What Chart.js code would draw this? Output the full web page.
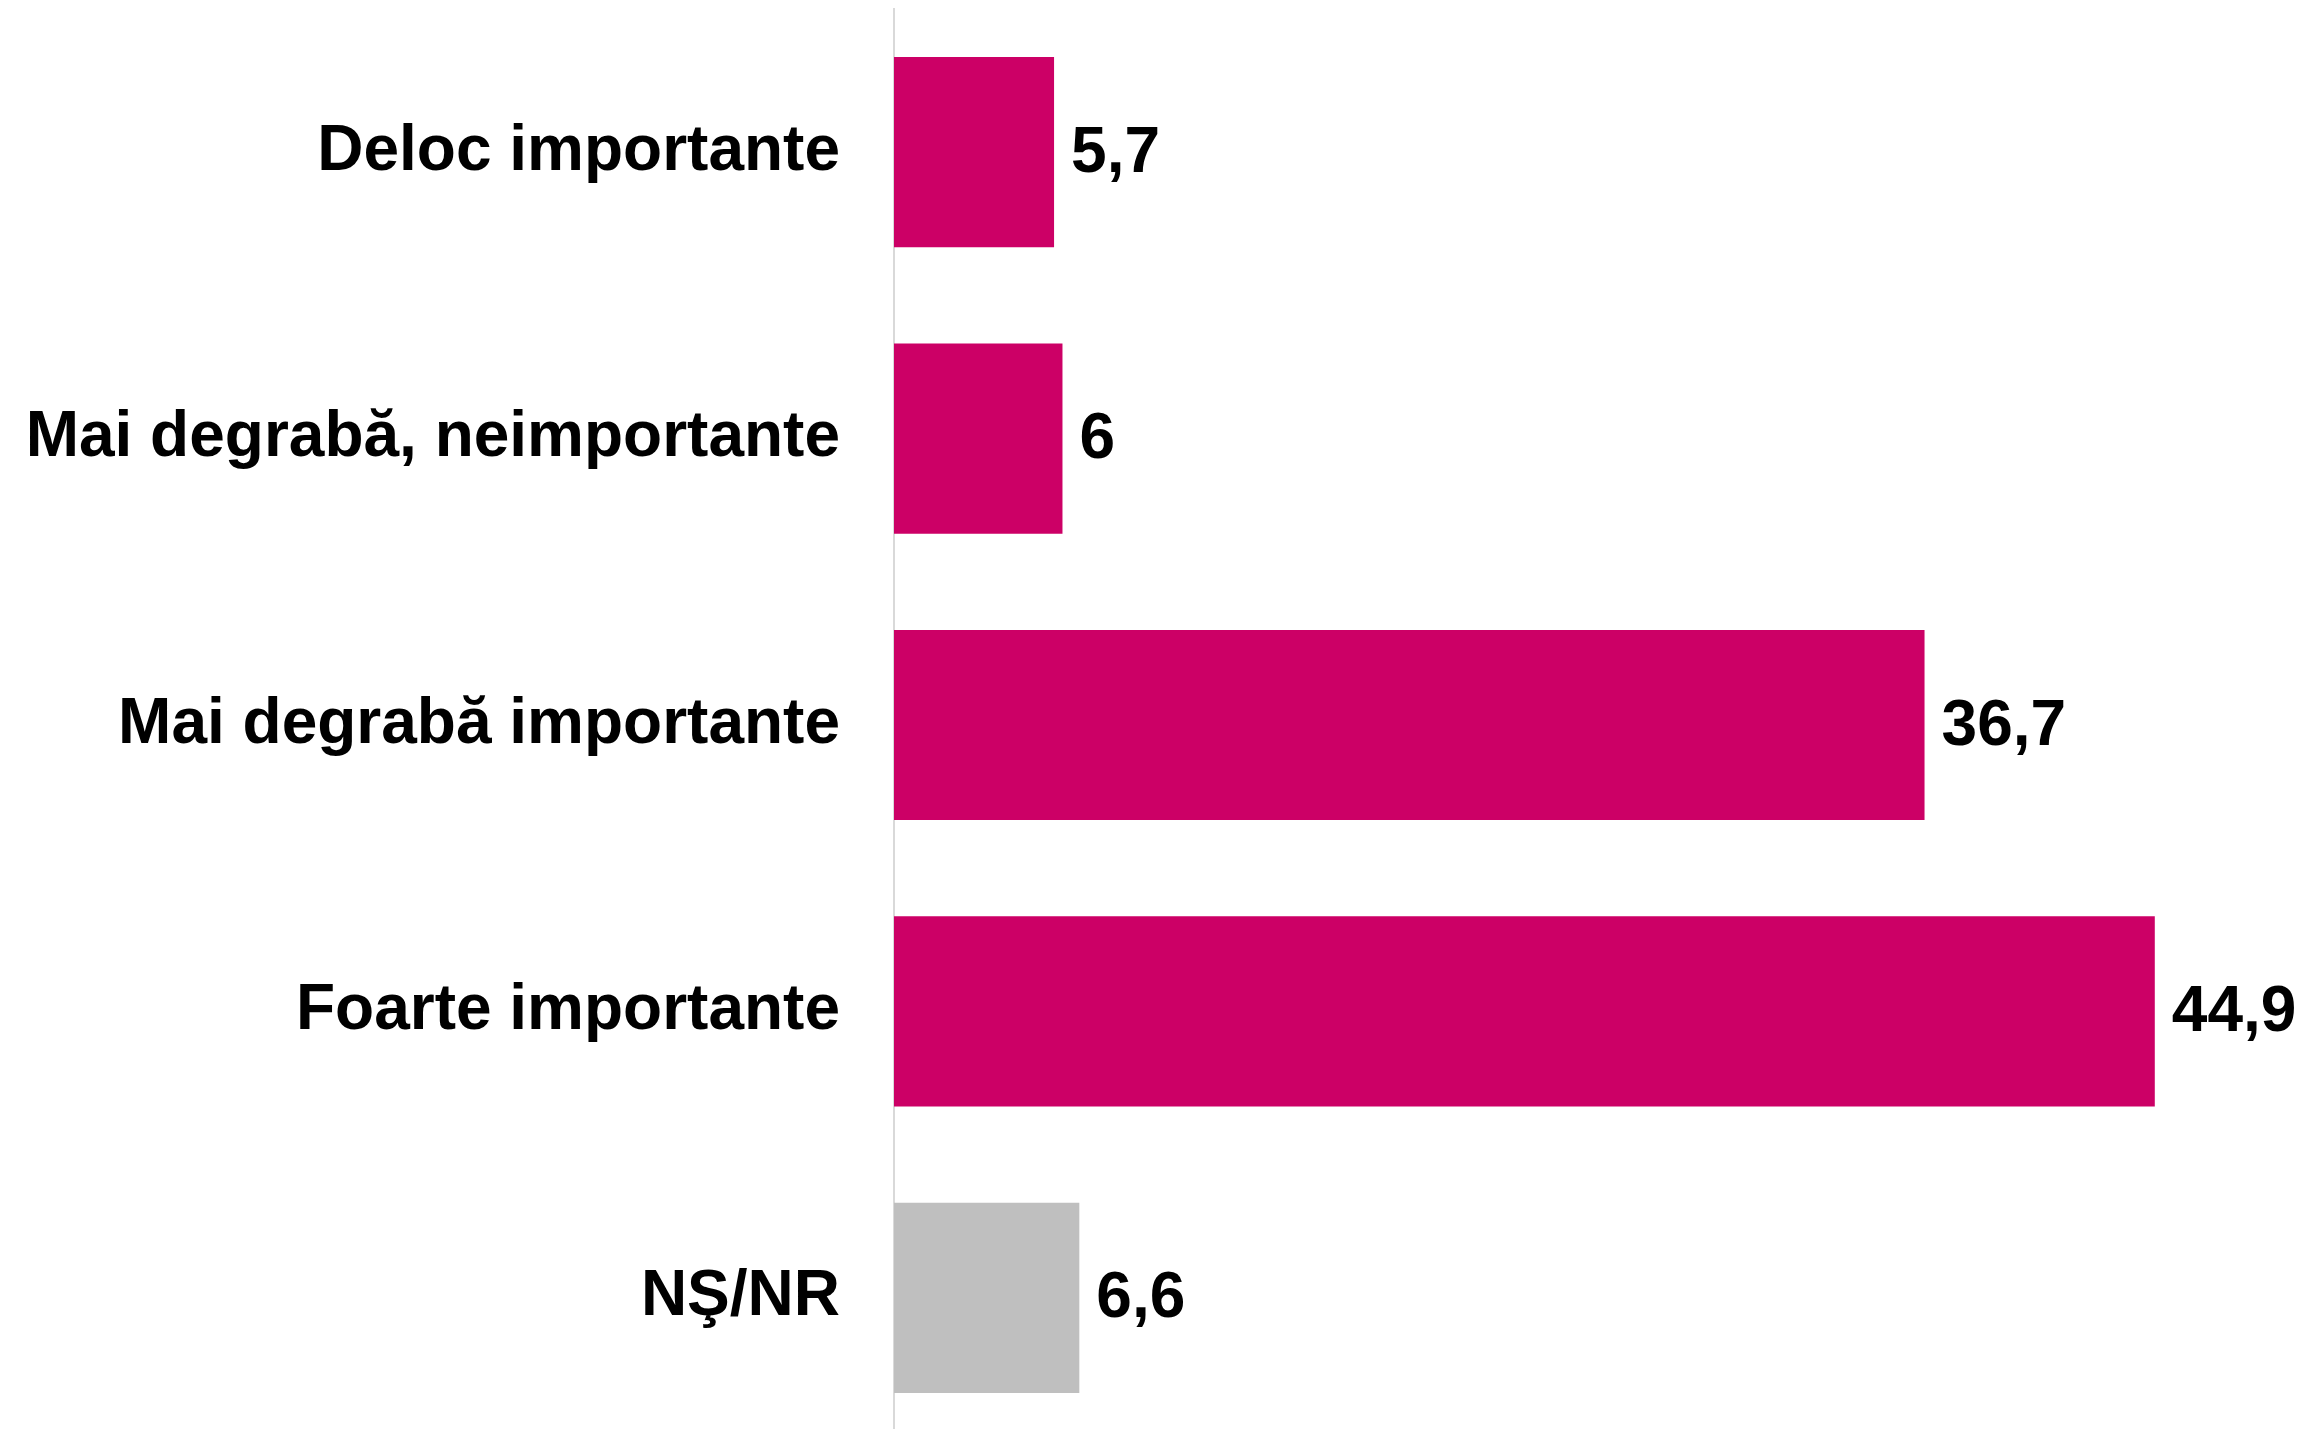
<!DOCTYPE html>
<html>
<head>
<meta charset="utf-8">
<script src="https://cdn.jsdelivr.net/npm/chart.js@4/dist/chart.umd.min.js"></script>
<style>
  html, body { margin: 0; padding: 0; background: #fff; overflow: hidden; }
  #wrap { width: 2313px; height: 1441px; }
</style>
</head>
<body>
<div id="wrap"><canvas id="chart"></canvas></div>
<script>
// data
const categories = ['Deloc importante', 'Mai degrabă, neimportante', 'Mai degrabă importante', 'Foarte importante', 'NŞ/NR'];
const values = [5.7, 6, 36.7, 44.9, 6.6];
const barColors = ['#CC0066', '#CC0066', '#CC0066', '#CC0066', '#BFBFBF'];

const FONT = 'bold 64px "Liberation Sans", Arial, sans-serif';

// value labels to the right of each bar, with comma decimals
const valueLabels = {
  id: 'valueLabels',
  afterDatasetsDraw(chart) {
    const ctx = chart.ctx;
    const meta = chart.getDatasetMeta(0);
    ctx.save();
    ctx.font = FONT;
    ctx.fillStyle = '#000';
    ctx.textAlign = 'left';
    ctx.textBaseline = 'middle';
    meta.data.forEach((bar, i) => {
      const txt = String(values[i]).replace('.', ',');
      ctx.fillText(txt, bar.x + 17, bar.y + 2);
    });
    ctx.restore();
  }
};

new Chart(document.getElementById('chart'), {
  type: 'bar',
  data: {
    labels: categories,
    datasets: [{
      data: values,
      backgroundColor: barColors,
      borderWidth: 0,
      categoryPercentage: 1,
      barPercentage: 0.664
    }]
  },
  options: {
    indexAxis: 'y',
    responsive: true,
    maintainAspectRatio: false,
    devicePixelRatio: 1,
    animation: false,
    layout: { padding: { top: 9, right: 15, bottom: 0, left: 0 } },
    plugins: { legend: { display: false }, tooltip: { enabled: false } },
    scales: {
      x: {
        display: false,
        min: 0,
        max: 50
      },
      y: {
        grid: { display: false, drawTicks: false },
        border: { display: true, color: '#D9D9D9', width: 2 },
        ticks: {
          color: '#000',
          padding: 54,
          font: { family: '"Liberation Sans", Arial, sans-serif', size: 64, weight: 'bold' }
        },
        afterFit(scale) {
          scale.width = 894;
          scale.paddingTop = 0;
          scale.paddingBottom = 0;
        }
      }
    }
  },
  plugins: [valueLabels]
});
</script>
</body>
</html>
